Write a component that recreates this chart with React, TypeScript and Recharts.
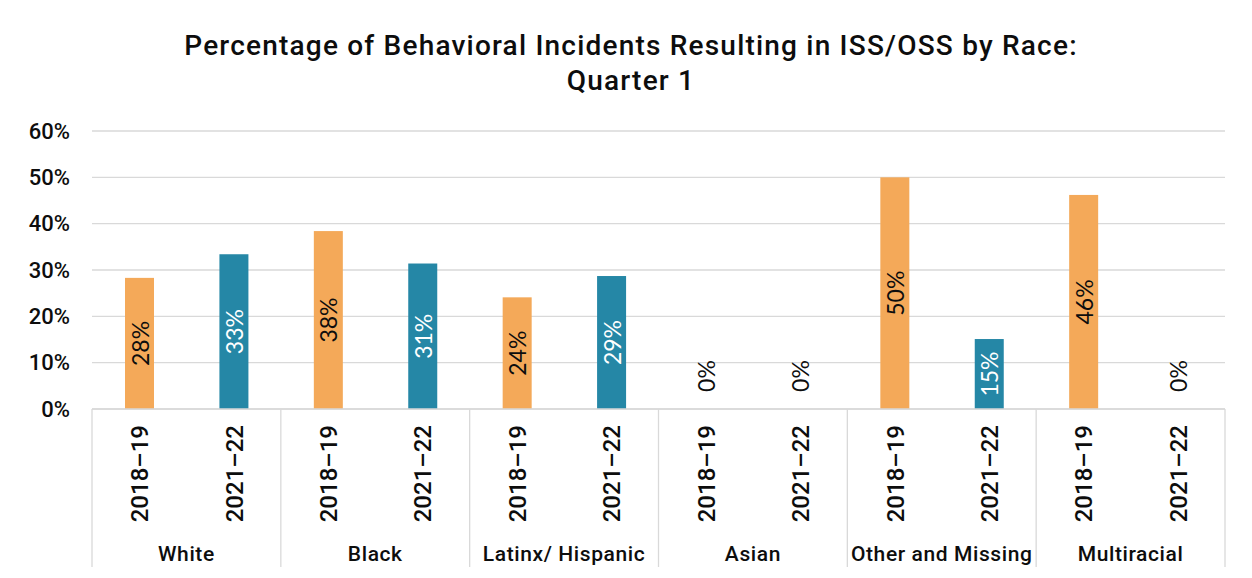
import { BarChart, Bar, XAxis, YAxis, CartesianGrid, Cell, LabelList } from "recharts";

const races = ["White", "Black", "Latinx/ Hispanic", "Asian", "Other and Missing", "Multiracial"];
const years = ["2018–19", "2021–22"];
const pct2018 = [28.3, 38.4, 24.1, 0, 50.0, 46.2];
const pct2021 = [33.4, 31.4, 28.7, 0, 15.1, 0];
const yTicks = [0, 10, 20, 30, 40, 50, 60];

const ORANGE = "#F4A959";
const TEAL = "#2587A6";
const GRID = "#D9D9D9";
const INK = "#0d0d0d";
const FONT = "Roboto, sans-serif";

const W = 1252;
const H = 578;
const PLOT_TOP = 131;
const PLOT_BOTTOM = 409;
const AXIS_BOTTOM = 567;

const rows = races.flatMap((race, i) => [
    { race, year: years[0], value: pct2018[i] },
    { race, year: years[1], value: pct2021[i] },
]);

const YearTick = (props: any) => {
    const { x, payload, index } = props;
    const half = payload.offset || 0;
    return (
        <g>
            {index % 2 === 0 && (
                <line x1={x - half} x2={x - half} y1={PLOT_BOTTOM} y2={AXIS_BOTTOM} stroke={GRID} strokeWidth={1.3} />
            )}
            {index === rows.length - 1 && (
                <line x1={x + half} x2={x + half} y1={PLOT_BOTTOM} y2={AXIS_BOTTOM} stroke={GRID} strokeWidth={1.3} />
            )}
            <text
                x={0} y={0}
                transform={`translate(${x + 9},${PLOT_BOTTOM + 16}) rotate(-90)`}
                textAnchor="end" fontFamily={FONT} fontWeight={500} fontSize={24} fill={INK}
            >
                {payload.value}
            </text>
        </g>
    );
};

const RaceTick = (props: any) => {
    const { x, payload } = props;
    return (
        <text
            x={x} y={AXIS_BOTTOM - 6} textAnchor="middle"
            fontFamily={FONT} fontWeight={500} fontSize={21} letterSpacing={0.6} fill={INK}
        >
            {payload.value}
        </text>
    );
};

// zero-height bars still need a slot so their label gets drawn, but no visible rect
const BarShape = (props: any) => {
    const { x, y, width, height, fill, payload } = props;
    if (!payload || payload.value === 0) return null;
    return <rect x={x} y={y} width={width} height={height} fill={fill} />;
};

const BarValue = (props: any) => {
    const { x, y, width, height, value, index } = props;
    const cx = x + width / 2;
    const cy = value === 0 ? y + height - 33 : y + height / 2;
    const fill = value !== 0 && rows[index].year === years[1] ? "#fff" : INK;
    return (
        <text
            x={0} y={0}
            transform={`translate(${cx},${cy}) rotate(-90)`}
            textAnchor="middle" dominantBaseline="central"
            fontFamily="Lato, sans-serif" fontSize={23} fill={fill}
        >
            {`${Math.round(value)}%`}
        </text>
    );
};

export default function App() {
    return (
        <div style={{ margin: -8, width: W, height: H, background: "#fff", position: "relative" }}>
            <svg width={W} height={H} style={{ position: "absolute", left: 0, top: 0 }}>
                <rect x={7} y={5} width={W} height={H} fill="none" stroke={GRID} strokeWidth={1.5} />
                <text
                    x={631} y={55} textAnchor="middle" fontFamily={FONT} fontWeight={500}
                    fontSize={28} letterSpacing={1.2} fill={INK}
                >
                    Percentage of Behavioral Incidents Resulting in ISS/OSS by Race:
                </text>
                <text
                    x={631} y={90} textAnchor="middle" fontFamily={FONT} fontWeight={500}
                    fontSize={28} letterSpacing={1.2} fill={INK}
                >
                    Quarter 1
                </text>
            </svg>
            <div style={{ position: "absolute", left: 0, top: 0 }}>
                <BarChart
                    width={W} height={H} data={rows}
                    margin={{ top: PLOT_TOP, right: 27, left: 12, bottom: H - AXIS_BOTTOM }}
                    barSize={29}
                >
                    <CartesianGrid vertical={false} stroke={GRID} strokeWidth={1.3} />
                    <YAxis
                        domain={[0, 60]} ticks={yTicks} width={80}
                        axisLine={false} tickLine={false} tickSize={0} tickMargin={22}
                        tickFormatter={(v) => `${v}%`}
                        tick={{ fill: INK, fontSize: 22, fontWeight: 500, fontFamily: FONT }}
                    />
                    <XAxis
                        dataKey="year" height={120} interval={0}
                        axisLine={{ stroke: GRID, strokeWidth: 1.3 }} tickLine={false}
                        tick={<YearTick />}
                    />
                    <XAxis
                        xAxisId="race" dataKey="race" height={38} interval={0}
                        allowDuplicatedCategory={false}
                        axisLine={false} tickLine={false}
                        tick={<RaceTick />}
                    />
                    <Bar dataKey="value" isAnimationActive={false} minPointSize={1} shape={<BarShape />}>
                        {rows.map((r, i) => (
                            <Cell key={i} fill={r.year === years[0] ? ORANGE : TEAL} />
                        ))}
                        <LabelList dataKey="value" content={<BarValue />} />
                    </Bar>
                </BarChart>
            </div>
        </div>
    );
}
